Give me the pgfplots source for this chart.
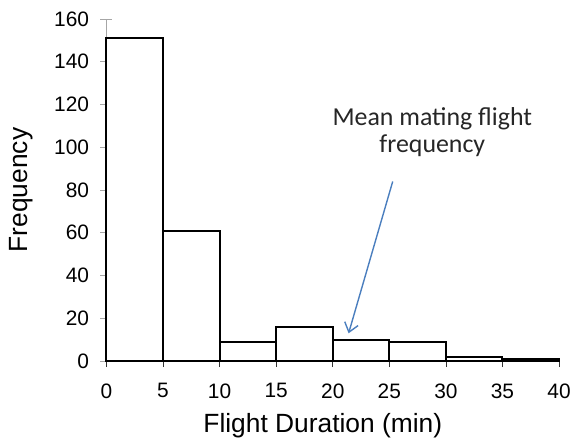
\documentclass[border=0pt]{standalone}
\usepackage{fontspec}
\setmainfont{Liberation Sans}
\newfontfamily\calibri{Carlito}
\usepackage{pgfplots}
\pgfplotsset{compat=1.18}
\usetikzlibrary{arrows.meta}
\definecolor{arrowblue}{RGB}{74,126,190}
\begin{document}
\begin{tikzpicture}[x=1pt,y=1pt]
\path (0,0) rectangle (574,437);
\begin{axis}[
  at={(107pt,74pt)}, anchor=south west,
  scale only axis, width=455pt, height=344pt,
  xmin=0, xmax=40, ymin=0, ymax=160,
  axis x line*=bottom, axis y line*=left,
  axis line style={draw=gray!70, -},
  x axis line style={draw=black, line width=1.2pt},
  xtick={0,5,...,40}, ytick={0,20,...,160},
  tick style={draw=gray!70, line width=0.8pt},
  xtick align=outside, ytick align=center,
  major tick length=12pt,
  x tick style={/pgfplots/major tick length=6pt, draw=black!80},
  tick label style={font=\fontsize{21}{24}\selectfont},
  xticklabel style={yshift=-7pt},
  yticklabel style={xshift=-8pt},
  /pgf/number format/assume math mode=true,
  xlabel={Flight Duration (min)}, ylabel={Frequency},
  label style={font=\fontsize{26.5}{30}\selectfont},
  xlabel style={yshift=-8pt, xshift=-10pt},
  ylabel style={yshift=14pt},
  clip=false,
]
\addplot[ybar interval, draw=black, line width=2pt, fill=white]
  coordinates {(0,151) (5,61) (10,9) (15,16) (20,10) (25,9) (30,2) (35,1) (40,1)};
\draw[arrowblue, line width=1.4pt, -{Straight Barb[length=9pt,width=14pt]}]
  (axis cs:25.3,84) -- (axis cs:21.4,13);
\node[align=center, font=\calibri\fontsize{26}{27}\selectfont, text=black!85]
  at (axis cs:28.8,107) {Mean mating flight\\frequency};
\end{axis}
\end{tikzpicture}
\end{document}
